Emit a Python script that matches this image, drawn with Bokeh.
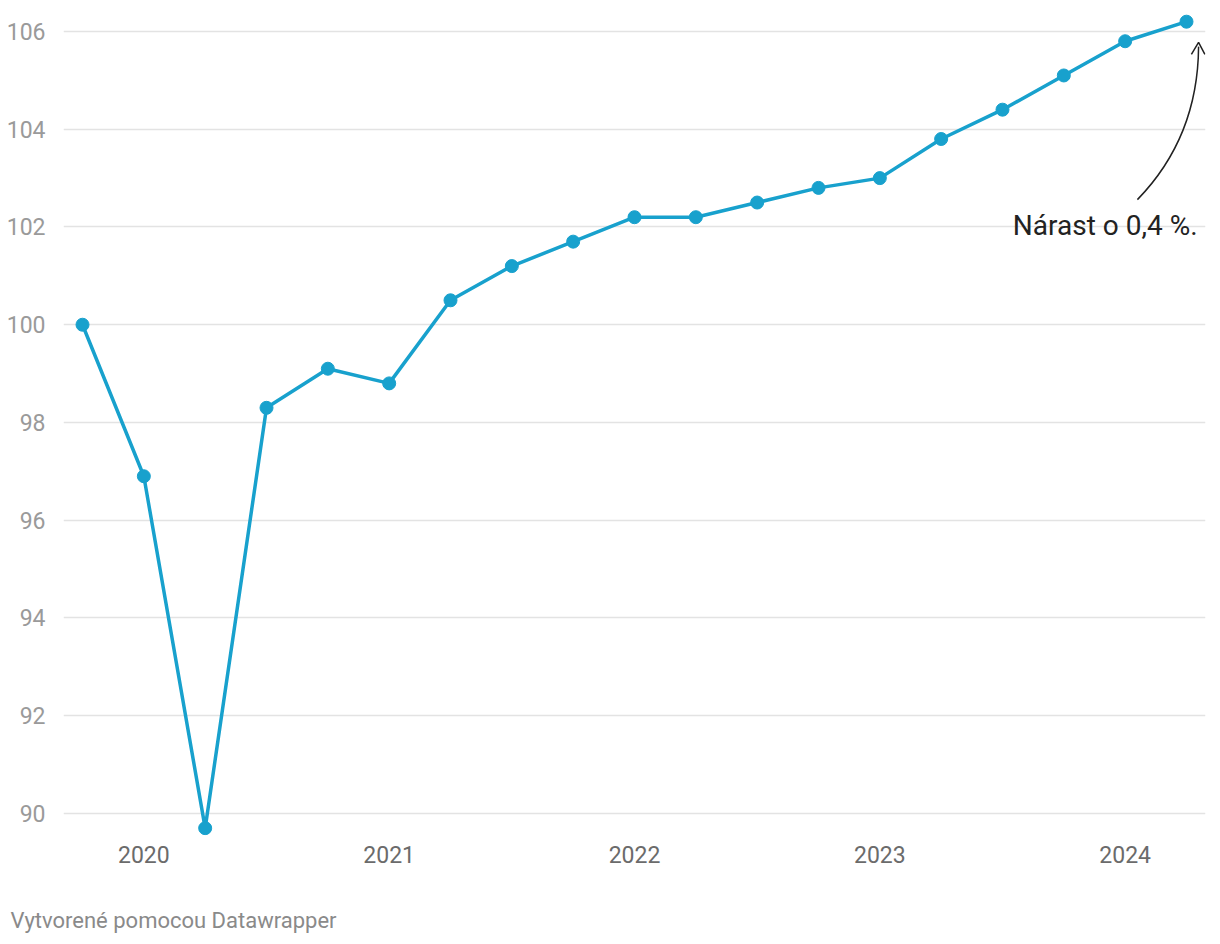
from bokeh.plotting import figure
from bokeh.models import FixedTicker, Label, Range1d, Title
from bokeh.embed import file_html
from bokeh.resources import INLINE

quarters = ["2019-Q4", "2020-Q1", "2020-Q2", "2020-Q3", "2020-Q4",
            "2021-Q1", "2021-Q2", "2021-Q3", "2021-Q4",
            "2022-Q1", "2022-Q2", "2022-Q3", "2022-Q4",
            "2023-Q1", "2023-Q2", "2023-Q3", "2023-Q4",
            "2024-Q1", "2024-Q2"]
values = [100.0, 96.9, 89.7, 98.3, 99.1, 98.8, 100.5, 101.2, 101.7,
          102.2, 102.2, 102.5, 102.8, 103.0, 103.8, 104.4, 105.1,
          105.8, 106.2]
year_labels = ["2020", "2021", "2022", "2023", "2024"]
y_ticks = [90, 92, 94, 96, 98, 100, 102, 104, 106]
annotation_text = "Nárast o 0,4 %."
footer_text = "Vytvorené pomocou Datawrapper"

xs = list(range(len(quarters)))
year_pos = [quarters.index(y + "-Q1") for y in year_labels]

FONT = "Roboto"
BLUE = "#18a1cd"

p = figure(width=1220, height=944, output_backend="svg", toolbar_location=None,
           x_range=Range1d(-0.31, 18.31), y_range=Range1d(89.55, 106.47),
           min_border_left=63, min_border_right=15, min_border_top=8,
           min_border_bottom=109)
p.outline_line_color = None
p.background_fill_color = "white"
p.border_fill_color = "white"

p.xgrid.grid_line_color = None
p.ygrid.grid_line_color = "#e3e3e3"
p.ygrid.grid_line_width = 1.5

p.yaxis.ticker = FixedTicker(ticks=y_ticks)
p.yaxis.axis_line_color = None
p.yaxis.major_tick_line_color = None
p.yaxis.minor_tick_line_color = None
p.yaxis.major_label_standoff = 12
p.yaxis.major_label_text_font = FONT
p.yaxis.major_label_text_font_size = "23px"
p.yaxis.major_label_text_color = "#9a9a9a"

p.xaxis.ticker = FixedTicker(ticks=year_pos)
p.xaxis.major_label_overrides = {pos: lab for pos, lab in zip(year_pos, year_labels)}
p.xaxis.axis_line_color = None
p.xaxis.major_tick_line_color = None
p.xaxis.minor_tick_line_color = None
p.xaxis.major_label_standoff = 4
p.xaxis.major_label_text_font = FONT
p.xaxis.major_label_text_font_size = "23px"
p.xaxis.major_label_text_color = "#6b6b6b"

p.line(xs, values, line_color=BLUE, line_width=3.5)
p.scatter(xs, values, size=13, fill_color=BLUE, line_color=BLUE)

# annotation
p.add_layout(Label(x=18.18, y=102.03, text=annotation_text, text_align="right",
                   text_baseline="middle", text_font=FONT,
                   text_font_size="28px", text_color="#222222"))
p.bezier(x0=[17.20], y0=[102.56], x1=[18.197], y1=[105.69],
         cx0=[17.82], cy0=[103.36], cx1=[18.19], cy1=[104.38],
         line_color="#222222", line_width=1.5)
p.multi_line(xs=[[18.08, 18.197, 18.30]], ys=[[105.53, 105.775, 105.53]],
             line_color="#222222", line_width=1.5)

# spacer + footer below the x axis
spacer = Title(text=" ", text_font_size="1px", standoff=37, text_color="white")
p.add_layout(spacer, "below")
footer = Title(text=footer_text, align="left", offset=-53, standoff=0,
               text_font=FONT, text_font_size="22px", text_font_style="normal",
               text_color="#8a8a8a")
p.add_layout(footer, "below")

open("out.html", "w").write(file_html(p, INLINE))
